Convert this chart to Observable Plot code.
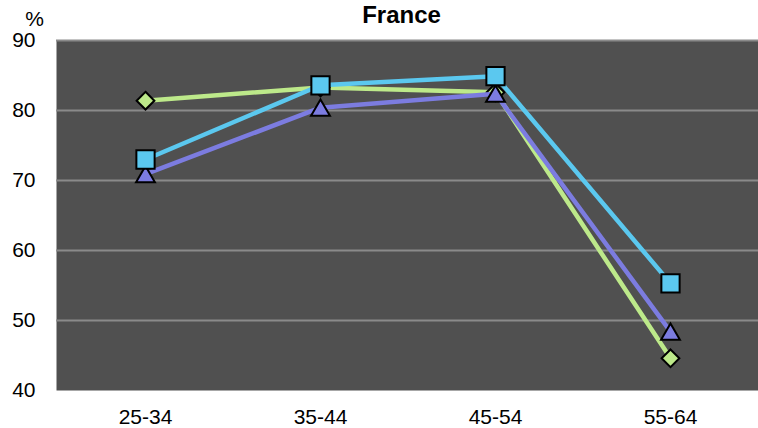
<!DOCTYPE html>
<html>
<head>
<meta charset="utf-8">
<script src="https://cdn.jsdelivr.net/npm/d3@7"></script>
<script src="https://cdn.jsdelivr.net/npm/@observablehq/plot@0.6"></script>
<style>
  html, body { margin: 0; padding: 0; background: #ffffff; }
  #chart { width: 758px; height: 428px; }
</style>
</head>
<body>
<div id="chart"></div>
<script>
const ageGroups = ["25-34", "35-44", "45-54", "55-64"];
const seriesDiamond = [81.4, 83.3, 82.6, 44.6];
const seriesSquare = [73.0, 83.6, 84.9, 55.3];
const seriesTriangle = [70.9, 80.4, 82.4, 48.4];
const yTicks = [40, 50, 60, 70, 80, 90];
const titleText = "France";
const unitText = "%";

const toRows = (vals) => ageGroups.map((g, i) => ({group: g, value: vals[i]}));
const diamondRows = toRows(seriesDiamond);
const squareRows = toRows(seriesSquare);
const triangleRows = toRows(seriesTriangle);

const GREEN = "#bde98a";
const CYAN = "#5bc8ef";
const PURPLE = "#7c7ce0";

const chart = Plot.plot({
  width: 758,
  height: 428,
  marginLeft: 56,
  marginRight: 0,
  marginTop: 40,
  marginBottom: 38,
  style: {fontFamily: "'Liberation Sans', Arial, sans-serif", fontSize: "21px", background: "#ffffff", color: "#000000"},
  x: {type: "point", domain: ageGroups, padding: 0.5, label: null},
  y: {domain: [40, 90], label: null},
  marks: [
    Plot.frame({fill: "#505050", stroke: null}),
    Plot.ruleY(yTicks.filter(t => t > 40), {stroke: "#8a8a8a", strokeWidth: 2}),
    Plot.ruleX([0], {x: () => null, frameAnchor: "left", stroke: "#6a6a6a", strokeWidth: 1}),
    Plot.axisY({ticks: yTicks, tickSize: 0, tickPadding: 21, label: null, fontSize: 21}),
    Plot.axisX({tickSize: 0, tickPadding: 19, label: null, fontSize: 21}),
    Plot.line(diamondRows, {x: "group", y: "value", stroke: GREEN, strokeWidth: 4.5}),
    Plot.dot(diamondRows, {x: "group", y: "value", symbol: "diamond2", r: 8, fill: GREEN, stroke: "#000", strokeWidth: 2}),
    Plot.line(triangleRows, {x: "group", y: "value", stroke: PURPLE, strokeWidth: 4.5}),
    Plot.dot(triangleRows, {x: "group", y: "value", symbol: "triangle", r: 7, dy: 2.7, fill: PURPLE, stroke: "#000", strokeWidth: 2}),
    Plot.line(squareRows, {x: "group", y: "value", stroke: CYAN, strokeWidth: 4.5}),
    Plot.dot(squareRows, {x: "group", y: "value", symbol: "square", r: 10.3, fill: CYAN, stroke: "#000", strokeWidth: 2}),
    Plot.text([titleText], {frameAnchor: "top", textAnchor: "middle", lineAnchor: "middle", dx: -6, dy: -25, fontWeight: "bold", fontSize: 24}),
    Plot.text([unitText], {frameAnchor: "top-left", textAnchor: "middle", lineAnchor: "middle", dx: -22, dy: -21, fontSize: 21})
  ]
});
document.getElementById("chart").appendChild(chart);
</script>
</body>
</html>
